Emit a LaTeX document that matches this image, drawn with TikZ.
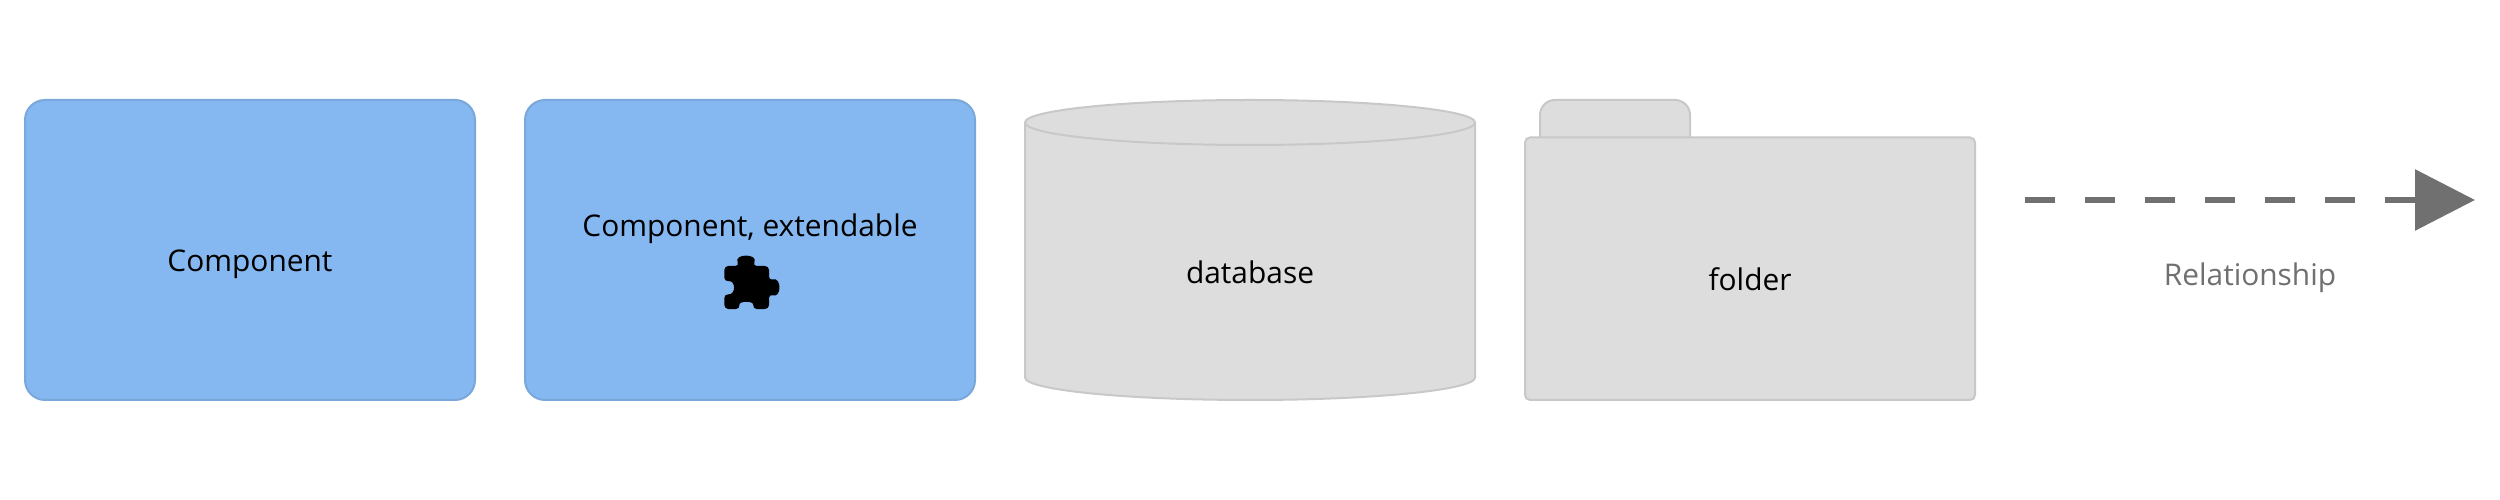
\documentclass[tikz,border=0pt]{standalone}
\usepackage{xcolor}
\usepackage{fontspec}
\setmainfont{Open Sans}
\usetikzlibrary{arrows.meta}
\definecolor{compFill}{RGB}{133,184,240}
\definecolor{compLine}{RGB}{122,168,218}
\definecolor{dataFill}{RGB}{221,221,221}
\definecolor{dataLine}{RGB}{200,200,200}
\definecolor{relColor}{RGB}{112,112,112}
\tikzset{
  compbox/.style={draw=compLine,fill=compFill,line width=0.04cm,rounded corners=0.4cm,minimum width=9cm,minimum height=6cm,inner sep=0pt},
  datashape/.style={draw=dataLine,fill=dataFill,line width=0.04cm},
  lbl/.style={anchor=base,inner sep=0pt,font=\fontsize{17}{20}\selectfont}
}
\begin{document}
\begin{tikzpicture}
\useasboundingbox (0,0) rectangle (50,10);
\node[compbox] (comp) at (5,5) {};
\node[compbox] (compExt) at (15,5) {};
\node[lbl] (compLbl) at (5,4.57) {Component};
\node[lbl] (compExtLbl) at (15,5.26) {Component, extendable};
\begin{scope}[shift={(14,5.2)},x=0.00667cm,y=-0.00667cm]
\fill[black,rounded corners=0.08cm] (73,78) -- (118,78) .. controls (100,40) and (176,40) .. (158,78) -- (207,78) -- (207,122) .. controls (245,110) and (245,175) .. (207,162) -- (207,207) -- (158,207) .. controls (162,182) and (116,182) .. (120,207) -- (73,207) -- (73,162) .. controls (108,165) and (108,120) .. (73,125) -- cycle;
\end{scope}
% database
\draw[datashape] (20.5,7.55) -- (20.5,2.45) arc[start angle=180,end angle=360,x radius=4.5,y radius=0.45] -- (29.5,7.55);
\draw[datashape] (25,7.55) ellipse (4.5 and 0.45);
\node[lbl] (dbLbl) at (25,4.33) {database};
% folder
\draw[datashape,rounded corners=0.3cm] (30.8,6.9) -- (30.8,8) -- (33.8,8) -- (33.8,6.9) -- cycle;
\draw[datashape,rounded corners=0.1cm] (30.5,2) rectangle (39.5,7.25);
\node[lbl] (folderLbl) at (35,4.18) {folder};
% relationship
\coordinate (relStart) at (40.5,6);
\coordinate (relEnd) at (49.5,6);
\draw[relColor,line width=0.12cm,dash pattern=on 0.6cm off 0.6cm,-{Triangle[length=1.2cm,width=1.2cm]}] (relStart) -- (relEnd);
\node[lbl,text=relColor] (relLbl) at (45,4.28) {Relationship};
\end{tikzpicture}
\end{document}
